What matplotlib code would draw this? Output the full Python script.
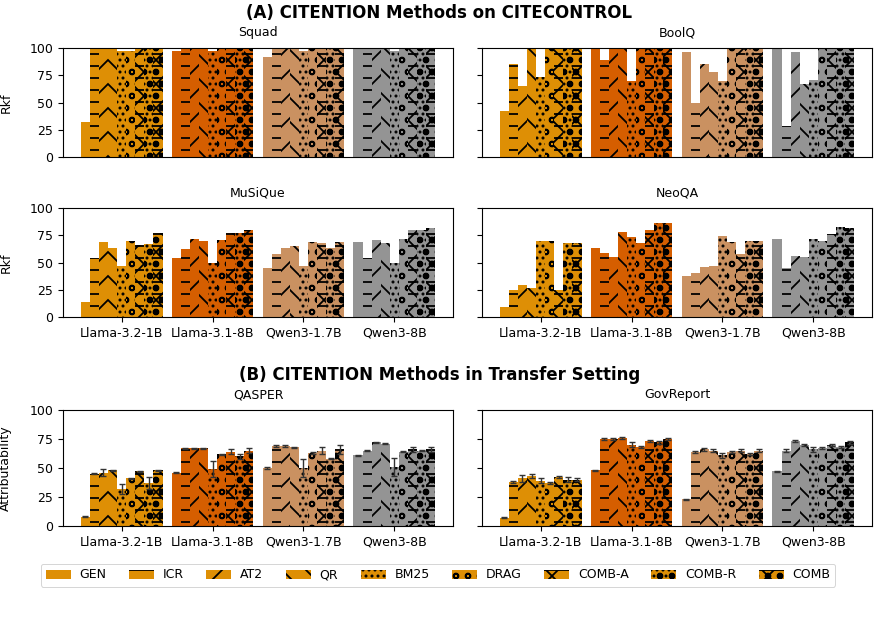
import numpy as np
import matplotlib
matplotlib.use("Agg")
import matplotlib.pyplot as plt
from matplotlib.patches import Patch

S = 100 / 72.0  # scale factor: figure rendered at 72 dpi

plt.rcParams['font.family'] = ['DejaVu Sans']
plt.rcParams['hatch.linewidth'] = 1.8
plt.rcParams['axes.linewidth'] = 0.8 * S
plt.rcParams['xtick.major.size'] = 3.5 * S
plt.rcParams['ytick.major.size'] = 3.5 * S
plt.rcParams['xtick.major.width'] = 0.8 * S
plt.rcParams['ytick.major.width'] = 0.8 * S
plt.rcParams['xtick.major.pad'] = 3.5 * S
plt.rcParams['ytick.major.pad'] = 3.5 * S
plt.rcParams['axes.titlepad'] = 6 * S + 3.5

models = ["Llama-3.2-1B", "Llama-3.1-8B", "Qwen3-1.7B", "Qwen3-8B"]
methods = ["GEN", "ICR", "AT2", "QR", "BM25", "DRAG", "COMB-A", "COMB-R", "COMB"]
hatches = ["", "-", "/", "\\", "..", "o", "-/\\", "..o", "-/\\.o"]
model_colors = ["#DE8F05", "#D55E00", "#CA9161", "#949494"]

# values[model][method]
squad = [
    [32, 100, 100, 100, 97, 97, 100, 100, 100],
    [97, 100, 100, 100, 97, 100, 100, 100, 100],
    [92, 99, 100, 100, 97, 100, 100, 100, 100],
    [100, 100, 100, 100, 97, 100, 100, 100, 100],
]
boolq = [
    [42, 85, 65, 100, 73, 100, 100, 100, 100],
    [100, 89, 100, 100, 70, 100, 100, 100, 100],
    [96, 50, 85, 78, 70, 100, 100, 100, 100],
    [100, 28, 96, 67, 71, 100, 100, 100, 100],
]
musique = [
    [14, 54, 69, 63, 47, 70, 66, 67, 77],
    [54, 62, 72, 70, 50, 71, 77, 77, 80],
    [45, 58, 63, 65, 47, 69, 68, 63, 69],
    [69, 54, 71, 68, 50, 72, 80, 80, 82],
]
neoqa = [
    [9, 25, 29, 27, 70, 70, 25, 68, 68],
    [63, 59, 55, 78, 73, 68, 80, 86, 86],
    [38, 40, 46, 47, 74, 69, 58, 70, 70],
    [72, 45, 56, 55, 72, 70, 76, 83, 82],
]
qasper = [
    [8, 45, 46, 48, 32, 41, 47, 37, 48],
    [46, 67, 67, 67, 49, 62, 64, 60, 65],
    [50, 69, 69, 68, 50, 63, 65, 58, 66],
    [61, 65, 72, 71, 51, 64, 66, 65, 66],
]
qasper_err = [
    [0.5, 0.5, 3, 0.5, 4, 0.5, 0.5, 5, 0.5],
    [0.5, 0.5, 0.5, 0.5, 7, 0.5, 2, 2, 2],
    [0.5, 0.5, 0.5, 0.5, 8, 0.5, 3, 0.5, 4],
    [0.5, 0.5, 0.5, 0.5, 8, 0.5, 2, 0.5, 2],
]
govreport = [
    [7, 38, 41, 43, 39, 37, 42, 40, 40],
    [48, 75, 75, 76, 70, 68, 73, 72, 75],
    [23, 64, 66, 65, 61, 64, 65, 62, 65],
    [47, 65, 73, 70, 66, 67, 70, 68, 72],
]
govreport_err = [
    [0.5, 1, 3, 2, 2, 1, 1, 2, 1],
    [0.5, 1, 1, 1, 2, 1, 1, 1, 1],
    [0.5, 1, 1, 1, 2, 1, 1, 1, 1],
    [0.5, 1, 1, 1, 2, 1, 1, 1, 1],
]

W, H = 879, 622
DPI = 72
fig = plt.figure(figsize=(W / DPI, H / DPI), dpi=DPI)

FS = 9 * S
TFS = 12 * S


def rect(x0, y0, x1, y1):
    return [x0 / W, 1 - y1 / H, (x1 - x0) / W, (y1 - y0) / H]


def draw(ax, vals, title, err=None, show_xt=True, show_yl=True, ylabel=None):
    x = np.arange(len(models))
    width = 0.1
    for mi in range(len(models)):
        for ki in range(len(methods)):
            pos = x[mi] + (ki - 4) * width
            ax.bar(pos, vals[mi][ki], width, color=model_colors[mi],
                   hatch=hatches[ki], edgecolor="black", linewidth=0)
            if err is not None:
                ax.errorbar(pos, vals[mi][ki], yerr=err[mi][ki], color="#333333",
                            capsize=2 * S, elinewidth=1 * S, capthick=1 * S, fmt="none")
    ax.set_ylim(0, 100)
    ax.set_yticks([0, 25, 50, 75, 100])
    ax.set_title(title, fontsize=FS)
    ax.set_xticks(x)
    if show_xt:
        ax.set_xticklabels(models, fontsize=FS)
    else:
        ax.set_xticklabels([])
        ax.tick_params(axis="x", length=0)
    if not show_yl:
        ax.set_yticklabels([])
    ax.tick_params(axis="y", labelsize=FS)
    if ylabel:
        ax.set_ylabel(ylabel, fontsize=FS)
        ax.yaxis.set_label_coords(-0.13, 0.5)


ax1 = fig.add_axes(rect(63, 48, 453, 157))
ax2 = fig.add_axes(rect(482, 48, 872, 157))
ax3 = fig.add_axes(rect(63, 208, 453, 317))
ax4 = fig.add_axes(rect(482, 208, 872, 317))
ax5 = fig.add_axes(rect(63, 410, 453, 526))
ax6 = fig.add_axes(rect(482, 410, 872, 526))

draw(ax1, squad, "Squad", show_xt=False, ylabel="Rkf")
draw(ax2, boolq, "BoolQ", show_xt=False, show_yl=False)
draw(ax3, musique, "MuSiQue", ylabel="Rkf")
draw(ax4, neoqa, "NeoQA", show_yl=False)
draw(ax5, qasper, "QASPER", err=qasper_err, ylabel="Attributability")
draw(ax6, govreport, "GovReport", err=govreport_err, show_yl=False)

fig.text(0.5, 1 - 13 / H, "(A) CITENTION Methods on CITECONTROL",
         ha="center", va="center", fontsize=TFS, fontweight="bold")
fig.text(0.5, 1 - 375 / H, "(B) CITENTION Methods in Transfer Setting",
         ha="center", va="center", fontsize=TFS, fontweight="bold")

handles = [Patch(facecolor=model_colors[0], hatch=h, edgecolor="black", linewidth=0)
           for h in hatches]
fig.legend(handles, methods, loc="center", bbox_to_anchor=(438 / W, 1 - 575 / H),
           ncol=9, fontsize=FS, handlelength=2.0, columnspacing=1.8,
           handletextpad=0.7, frameon=True)

fig.savefig("out.png", dpi=DPI)
